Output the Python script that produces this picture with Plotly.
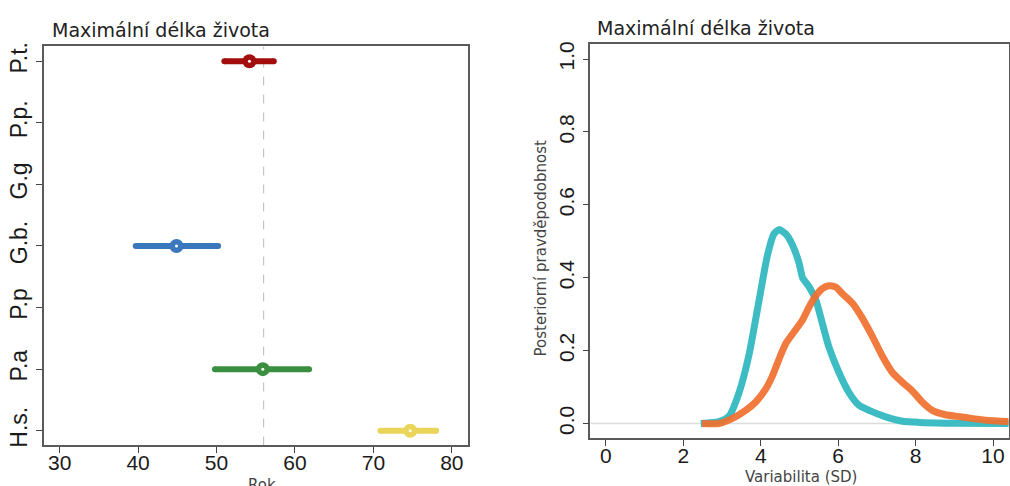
import plotly.graph_objects as go

# ---- left panel: interval estimates per species ----
species = ["H.s.", "P.a", "P.p", "G.b.", "G.g", "P.p.", "P.t."]
est_species = ["P.t.", "G.b.", "P.a", "H.s."]
est_mid = [54.2, 44.9, 55.9, 74.7]
est_low = [51.0, 39.7, 49.8, 70.9]
est_high = [57.3, 50.2, 61.8, 78.0]
est_colors = ["#a30d0d", "#3b77bd", "#3a9040", "#ead55a"]
ref_line = 56.0
x_ticks_left = [30, 40, 50, 60, 70, 80]

# ---- right panel: posterior densities ----
teal_x = [2.45, 2.92, 3.18, 3.44, 3.70, 3.96, 4.17, 4.34, 4.47, 4.65, 4.82, 4.99,
          5.08, 5.25, 5.42, 5.59, 5.76, 6.02, 6.28, 6.54, 6.80, 7.23, 7.66, 8.09,
          8.95, 10.5]
teal_y = [0.0, 0.005, 0.02, 0.085, 0.19, 0.34, 0.46, 0.52, 0.532, 0.52, 0.49, 0.44,
          0.40, 0.375, 0.34, 0.275, 0.21, 0.14, 0.085, 0.05, 0.036, 0.018, 0.006,
          0.003, 0.001, 0.0]
orange_x = [2.48, 2.92, 3.27, 3.61, 3.87, 4.13, 4.30, 4.47, 4.65, 4.90, 5.08, 5.25,
            5.42, 5.59, 5.76, 5.94, 6.11, 6.37, 6.62, 6.88, 7.14, 7.40, 7.66, 7.91,
            8.17, 8.43, 8.77, 9.20, 9.81, 10.5]
orange_y = [0.0, 0.0, 0.014, 0.036, 0.059, 0.095, 0.13, 0.176, 0.22, 0.257, 0.284,
            0.32, 0.35, 0.37, 0.378, 0.374, 0.356, 0.33, 0.29, 0.24, 0.185, 0.14,
            0.113, 0.09, 0.059, 0.036, 0.024, 0.018, 0.009, 0.005]
x_ticks_right = [0, 2, 4, 6, 8, 10]
y_ticks_right = [0.0, 0.2, 0.4, 0.6, 0.8, 1.0]

title_text = "Maximální délka života"
W, H = 1010, 486
TICK_FONT = dict(family="Liberation Sans, Arial", size=21, color="#1a1a1a")
SPECIES_FONT = dict(family="Liberation Sans, Arial", size=23, color="#1a1a1a")
TEXT_FONT = "DejaVu Sans, Verdana"

fig = go.Figure()

ypos = {s: i + 1 for i, s in enumerate(species)}

# reference line
fig.add_trace(go.Scatter(x=[ref_line, ref_line], y=[0.76, 7.24], mode="lines",
                         line=dict(color="#c4c4c4", width=1.2, dash="dash"),
                         xaxis="x", yaxis="y", hoverinfo="skip"))

for s, m, lo, hi, c in zip(est_species, est_mid, est_low, est_high, est_colors):
    yy = ypos[s]
    fig.add_trace(go.Scatter(x=[lo, hi], y=[yy, yy], mode="lines+markers",
                             line=dict(color=c, width=6),
                             marker=dict(size=6, color=c),
                             xaxis="x", yaxis="y"))
    fig.add_trace(go.Scatter(x=[m], y=[yy], mode="markers",
                             marker=dict(size=14, color=c),
                             xaxis="x", yaxis="y"))
    fig.add_trace(go.Scatter(x=[m], y=[yy], mode="markers",
                             marker=dict(size=3, color="white"),
                             xaxis="x", yaxis="y"))

# zero line and density curves
fig.add_trace(go.Scatter(x=[-0.4, 10.4], y=[0, 0], mode="lines",
                         line=dict(color="#dcdcdc", width=1.5),
                         xaxis="x2", yaxis="y2"))
fig.add_trace(go.Scatter(x=teal_x, y=teal_y, mode="lines",
                         line=dict(color="#3dbcc4", width=7, shape="spline", smoothing=0.6),
                         xaxis="x2", yaxis="y2"))
fig.add_trace(go.Scatter(x=orange_x, y=orange_y, mode="lines",
                         line=dict(color="#f0702e", width=7, shape="spline", smoothing=0.6),
                         opacity=0.92, xaxis="x2", yaxis="y2"))

axis_common = dict(showgrid=False, zeroline=False, showline=True, mirror=True,
                   linecolor="#5a5a5a", linewidth=1.5, ticks="outside", ticklen=6,
                   tickcolor="#444", tickwidth=1.2)

fig.update_layout(
    width=W, height=H, margin=dict(l=0, r=0, t=0, b=0),
    paper_bgcolor="white", plot_bgcolor="white", showlegend=False,
    xaxis=dict(domain=[44 / W, 468 / W], range=[28, 82], tickvals=x_ticks_left,
               anchor="y", tickfont=TICK_FONT, ticklabelstandoff=-8, **axis_common),
    yaxis=dict(domain=[1 - 447 / H, 1 - 43 / H], range=[0.76, 7.24],
               tickvals=list(ypos.values()), ticktext=species, tickangle=-90,
               anchor="x", tickfont=SPECIES_FONT, **axis_common),
    xaxis2=dict(domain=[591 / W, 1009.5 / W], range=[-0.4, 10.4], tickvals=x_ticks_right,
                anchor="y2", tickfont=TICK_FONT, ticklabelstandoff=-8, **axis_common),
    yaxis2=dict(domain=[1 - 439.5 / H, 1 - 41 / H], range=[-0.04, 1.04],
                tickvals=y_ticks_right, tickformat=".1f", tickangle=-90,
                anchor="x2", tickfont=TICK_FONT, **axis_common),
)

title_font = dict(family=TEXT_FONT, size=19, color="#222")
label_font = dict(family=TEXT_FONT, size=15, color="#444")
fig.add_annotation(text=title_text, x=50 / W, y=1 - 26 / H, xref="paper", yref="paper",
                   xanchor="left", yanchor="middle", showarrow=False, font=title_font)
fig.add_annotation(text=title_text, x=596 / W, y=1 - 24 / H, xref="paper", yref="paper",
                   xanchor="left", yanchor="middle", showarrow=False, font=title_font)
fig.add_annotation(text="Rok", x=262 / W, y=1 - 476 / H, xref="paper", yref="paper",
                   xanchor="center", yanchor="top", showarrow=False, font=label_font)
fig.add_annotation(text="Variabilita (SD)", x=802 / W, y=1 - 468 / H, xref="paper",
                   yref="paper", xanchor="center", yanchor="top", showarrow=False,
                   font=label_font)
fig.add_annotation(text="Posteriorní pravděpodobnost", x=541 / W, y=1 - 247 / H,
                   xref="paper", yref="paper", xanchor="center", yanchor="middle",
                   textangle=-90, showarrow=False, font=label_font)

fig.write_html("out.html")
